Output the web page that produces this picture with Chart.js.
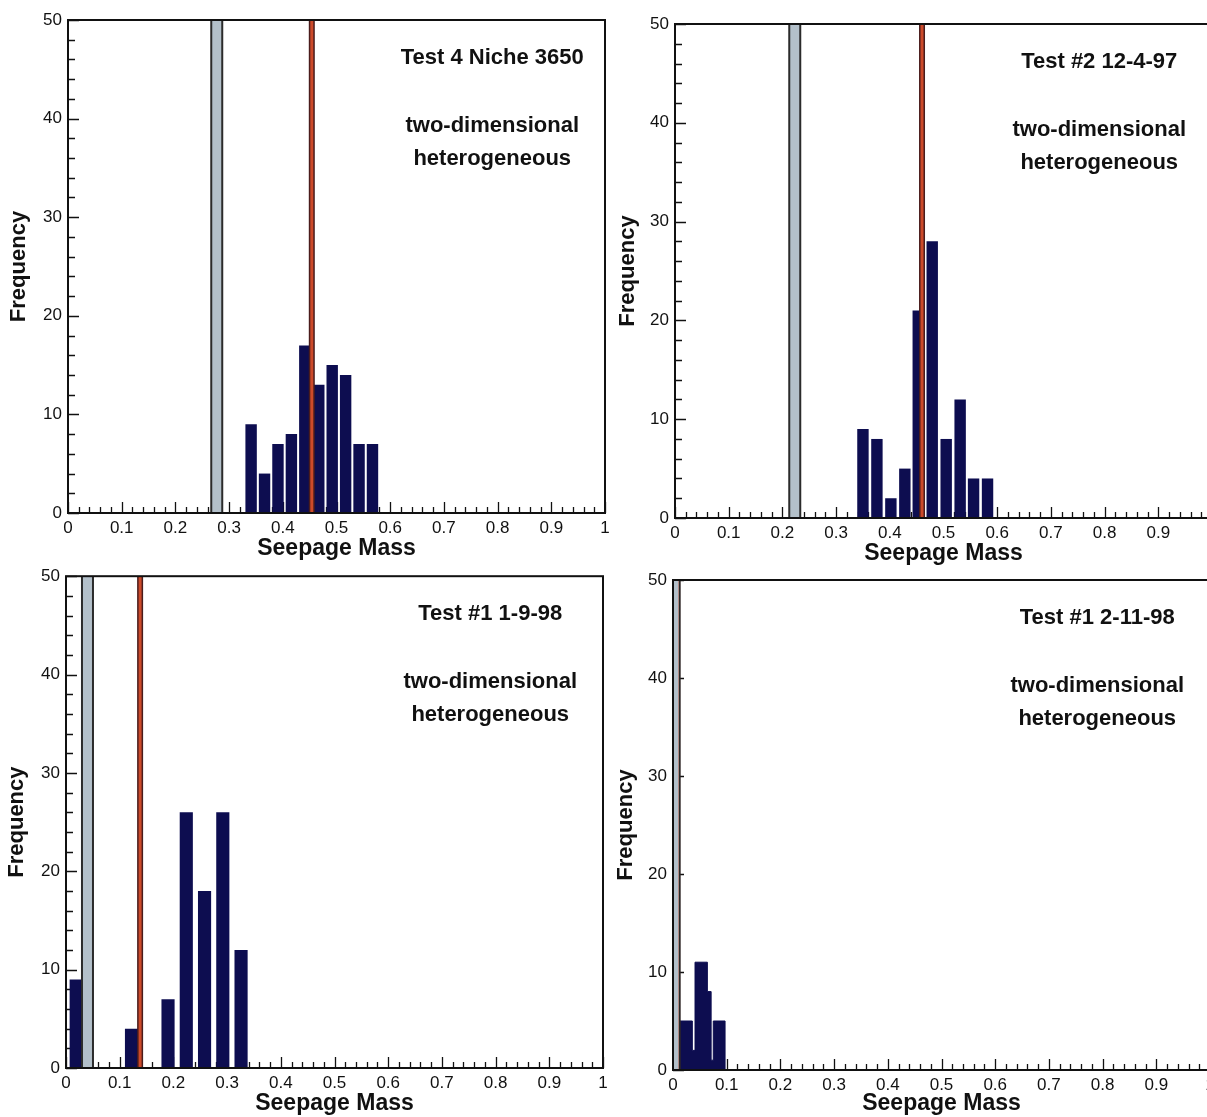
<!DOCTYPE html>
<html>
<head>
<meta charset="utf-8">
<script src="https://cdn.jsdelivr.net/npm/chart.js@4.4.1/dist/chart.umd.min.js"></script>
<style>
  html, body { margin: 0; padding: 0; background: #fff; overflow: hidden; width: 1207px; height: 1117px; position: relative; }
  canvas { position: absolute; }
</style>
</head>
<body>
<canvas id="c1" width="620" height="562" style="left:0;top:0"></canvas>
<canvas id="c2" width="620" height="567" style="left:610px;top:0"></canvas>
<canvas id="c3" width="620" height="557" style="left:0;top:560px"></canvas>
<canvas id="c4" width="620" height="557" style="left:610px;top:560px"></canvas>
<script>
// values
const freqTicks = [0, 10, 20, 30, 40, 50];

const niche3650Bins = [0.341, 0.366, 0.391, 0.416, 0.441, 0.467, 0.492, 0.517, 0.542, 0.567];
const niche3650Counts = [9, 4, 7, 8, 17, 13, 15, 14, 7, 7];
const niche3650Marks = [0.277, 0.454]; // grey band, red line

const test2Bins = [0.350, 0.376, 0.402, 0.428, 0.453, 0.479, 0.505, 0.531, 0.556, 0.582];
const test2Counts = [9, 8, 2, 5, 21, 28, 8, 12, 4, 4];
const test2Marks = [0.223, 0.460];

const test1aBins = [0.019, 0.122, 0.190, 0.224, 0.258, 0.292, 0.326];
const test1aCounts = [9, 4, 7, 26, 18, 26, 12];
const test1aMarks = [0.040, 0.138];

// last panel: bars touch each other, so kept as bin edges
const test1bEdges = [0.009, 0.036, 0.041, 0.064, 0.071, 0.075, 0.097];
const test1bCounts = [5, 2, 11, 8, 1, 5, 0];
const test1bMarks = [0.002, 0.008];

const panelTitles = ['Test 4 Niche 3650', 'Test #2 12-4-97', 'Test #1 1-9-98', 'Test #1 2-11-98'];
const noteLines = ['two-dimensional', 'heterogeneous'];

const FONT = '"Liberation Sans", Arial, Helvetica, sans-serif';
const NAVY = '#0d0d50';

function seg(v) {
    return [{ x: v, y: 0 }, { x: v, y: freqTicks[freqTicks.length - 1] }];
}

function markDatasets(marks) {
    const base = { type: 'line', pointRadius: 0, clip: 0, borderCapStyle: 'butt' };
    return [
        { ...base, data: seg(marks[0]), borderColor: '#2b2b2b', borderWidth: 13, order: 2 },
        { ...base, data: seg(marks[0]), borderColor: '#b3c0ca', borderWidth: 9, order: 1 },
        { ...base, data: seg(marks[1]), borderColor: '#4a1c1c', borderWidth: 6, order: 2 },
        { ...base, data: seg(marks[1]), borderColor: '#cc4a2a', borderWidth: 3, order: 1 }
    ];
}

function barDataset(bins, counts, pct) {
    return {
        type: 'bar',
        data: bins.map((b, i) => ({ x: b, y: counts[i] })),
        backgroundColor: NAVY,
        borderWidth: 0,
        barPercentage: pct,
        categoryPercentage: 1,
        order: 10
    };
}

const framePlugin = {
    id: 'frame',
    beforeDatasetsDraw(chart) {
        const { ctx, chartArea: a, scales: { x, y } } = chart;
        ctx.save();
        ctx.strokeStyle = '#111';
        ctx.lineWidth = 1.3;
        ctx.beginPath();
        for (let i = 0; i <= 50; i++) {
            const px = Math.round(x.getPixelForValue(i / 50)) + 0.5;
            const len = i % 5 === 0 ? 11 : 6;
            ctx.moveTo(px, a.bottom);
            ctx.lineTo(px, a.bottom - len);
        }
        for (let v = 0; v <= 50; v += 2) {
            const py = Math.round(y.getPixelForValue(v)) + 0.5;
            const len = v % 10 === 0 ? 11 : 7;
            ctx.moveTo(a.left, py);
            ctx.lineTo(a.left + len, py);
        }
        ctx.stroke();
        ctx.restore();
    },
    afterDatasetsDraw(chart, args, opts) {
        const { ctx, chartArea: a } = chart;
        ctx.save();
        ctx.strokeStyle = '#111';
        ctx.lineWidth = 2;
        ctx.strokeRect(a.left, a.top, a.right - a.left, a.bottom - a.top);
        ctx.fillStyle = '#111';
        ctx.font = 'bold 22px ' + FONT;
        ctx.textAlign = 'center';
        ctx.textBaseline = 'middle';
        const cx = a.left + 0.79 * (a.right - a.left);
        ctx.fillText(opts.title, cx, a.top + 38);
        ctx.fillText(noteLines[0], cx, a.top + 106);
        ctx.fillText(noteLines[1], cx, a.top + 139);
        ctx.restore();
    }
};

function makeChart(id, datasets, p) {
    new Chart(document.getElementById(id), {
        type: 'bar',
        data: { datasets },
        options: {
            responsive: false,
            animation: false,
            events: [],
            layout: { padding: { top: p.padTop, right: p.padRight, left: 0, bottom: 0 } },
            plugins: {
                legend: { display: false },
                tooltip: { enabled: false },
                frame: { title: p.title }
            },
            scales: {
                x: {
                    type: 'linear',
                    min: 0,
                    max: 1,
                    offset: false,
                    grid: { display: false, drawTicks: false, offset: false },
                    border: { display: false },
                    ticks: {
                        stepSize: 0.1, padding: 5, color: '#111', maxRotation: 0,
                        font: { family: FONT, size: 17 },
                        callback: v => String(Math.round(v * 10) / 10)
                    },
                    title: { display: true, text: 'Seepage Mass', color: '#111', padding: 0, font: { family: FONT, size: 23, weight: 'bold' } },
                    afterFit: s => { s.height = p.xHeight; }
                },
                y: {
                    min: 0,
                    max: 50,
                    grid: { display: false, drawTicks: false },
                    border: { display: false },
                    ticks: { stepSize: 10, padding: 6, color: '#111', font: { family: FONT, size: 17 } },
                    title: { display: true, text: 'Frequency', color: '#111', padding: { top: p.titlePad, bottom: 0 }, font: { family: FONT, size: 22, weight: 'bold' } },
                    afterFit: s => { s.width = p.yWidth; }
                }
            }
        },
        plugins: [framePlugin]
    });
}

makeChart('c1', [barDataset(niche3650Bins, niche3650Counts, 0.85), ...markDatasets(niche3650Marks)],
    { title: panelTitles[0], padTop: 20, padRight: 15, xHeight: 49, yWidth: 68, titlePad: 6 });

makeChart('c2', [barDataset(test2Bins, test2Counts, 0.85), ...markDatasets(test2Marks)],
    { title: panelTitles[1], padTop: 24, padRight: 18, xHeight: 49, yWidth: 65, titlePad: 5 });

makeChart('c3', [barDataset(test1aBins, test1aCounts, 0.72), ...markDatasets(test1aMarks)],
    { title: panelTitles[2], padTop: 16, padRight: 17, xHeight: 49, yWidth: 66, titlePad: 4 });

makeChart('c4', [{
        type: 'line',
        data: test1bEdges.map((e, i) => ({ x: e, y: test1bCounts[i] })),
        stepped: true,
        fill: 'origin',
        backgroundColor: NAVY,
        borderColor: NAVY,
        borderWidth: 1,
        pointRadius: 0,
        order: 10
    }, ...markDatasets(test1bMarks)],
    { title: panelTitles[3], padTop: 20, padRight: 20, xHeight: 47, yWidth: 63, titlePad: 3 });
</script>
</body>
</html>
